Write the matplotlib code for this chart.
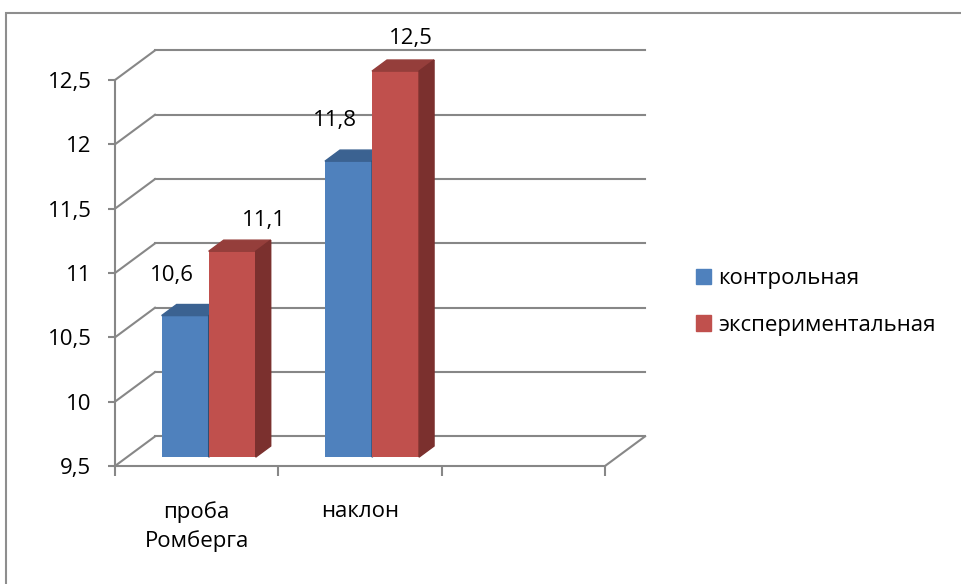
import matplotlib
matplotlib.use("Agg")
import numpy as np
import matplotlib.pyplot as plt
from matplotlib.patches import Polygon, Rectangle, Patch
from matplotlib.ticker import FuncFormatter

plt.rcParams['font.family'] = ['Open Sans', 'DejaVu Sans']

# data
categories = ["проба\nРомберга", "наклон", ""]
series_names = ["контрольная", "экспериментальная"]
control = [10.6, 11.8]
experimental = [11.1, 12.5]
y_ticks = [9.5, 10, 10.5, 11, 11.5, 12, 12.5]

# colours
front_colors = ["#4F81BD", "#C0504D"]
top_colors = ["#3B6291", "#953E3B"]
side_colors = ["#2F4E73", "#7B302E"]
GRID = "#878787"

# fake 3d geometry (data units)
DX, DY = 0.245, 0.23      # full depth offset of the back wall
FRONT, DEPTH = 0.3, 0.375  # bar position / thickness as a fraction of depth
W = 0.288                  # bar width
base = y_ticks[0]

fig = plt.figure(figsize=(9.61, 5.84), dpi=100)
ax = fig.add_axes([115 / 961, 1 - 466 / 584, 490 / 961, 386 / 584])
ax.set_xlim(0, 3)
ax.set_ylim(base, y_ticks[-1])
ax.set_facecolor('none')
for s in ['top', 'right']:
    ax.spines[s].set_visible(False)
for s in ['left', 'bottom']:
    ax.spines[s].set_color(GRID)
    ax.spines[s].set_linewidth(1.5)

ax.set_yticks(y_ticks)
ax.yaxis.set_major_formatter(FuncFormatter(lambda v, _: f"{v:g}".replace(".", ",")))
ax.tick_params(axis='y', length=5, width=1.5, color=GRID, pad=12, labelsize=16)
ax.set_xticks([0, 1, 2, 3])
ax.set_xticklabels([])
ax.set_xticks(np.arange(len(categories)) + 0.5, minor=True)
ax.set_xticklabels(categories, minor=True, linespacing=1.42)
ax.tick_params(axis='x', which='major', length=7, width=1.5, color=GRID)
ax.tick_params(axis='x', which='minor', length=0, pad=25, labelsize=16)

# back wall and floor
for v in y_ticks:
    ax.plot([DX, 3 + DX], [v + DY, v + DY], color=GRID, lw=1.5, clip_on=False, zorder=1)
    ax.plot([0, DX], [v, v + DY], color=GRID, lw=1.5, clip_on=False, zorder=1)
ax.plot([3, 3 + DX], [base, base + DY], color=GRID, lw=1.5, clip_on=False, zorder=1)

# bars
label_offsets = [[(-13.5, 40), (-14, 41)], [(32, 31), (15.5, 33)]]
x = np.arange(len(control)) + 0.5
ox, oy = FRONT * DX, FRONT * DY
dx, dy = DEPTH * DX, DEPTH * DY
for i, vals in enumerate([control, experimental]):
    vals = np.array(vals)
    lefts = x + ox - W + i * W
    z = 3 + i * 3
    ax.bar(lefts, vals - base, width=W, bottom=base + oy, align='edge',
           color=front_colors[i], clip_on=False, zorder=z)
    for j, (l, v) in enumerate(zip(lefts, vals)):
        t = v + oy
        ax.add_patch(Polygon([(l, t), (l + W, t), (l + W + dx, t + dy), (l + dx, t + dy)],
                             closed=True, color=top_colors[i], clip_on=False, zorder=z + 1))
        ax.add_patch(Polygon([(l + W, base + oy), (l + W, t), (l + W + dx, t + dy),
                              (l + W + dx, base + oy + dy)],
                             closed=True, color=side_colors[i], clip_on=False, zorder=z + 1))
        ox_px, oy_px = label_offsets[i][j]
        ax.annotate(f"{v:g}".replace(".", ","), xy=(l + W / 2, t),
                    xytext=(ox_px * 0.72, oy_px * 0.72), textcoords='offset points',
                    ha='center', va='center', fontsize=16, zorder=10, annotation_clip=False)

# legend
handles = [Patch(color=c) for c in front_colors]
fig.legend(handles, series_names, loc='center left', bbox_to_anchor=(676 / 961, 1 - 302 / 584),
           frameon=False, fontsize=16, handlelength=0.68, handleheight=0.68,
           handletextpad=0.32, labelspacing=1.15)

# outer chart border
fig.patches.append(Rectangle((6 / 961, -0.05), 1.0, 1.05 - 13 / 584, transform=fig.transFigure,
                             fill=False, edgecolor="#8E8E8E", lw=1.5))

fig.savefig("out.png", dpi=100)
